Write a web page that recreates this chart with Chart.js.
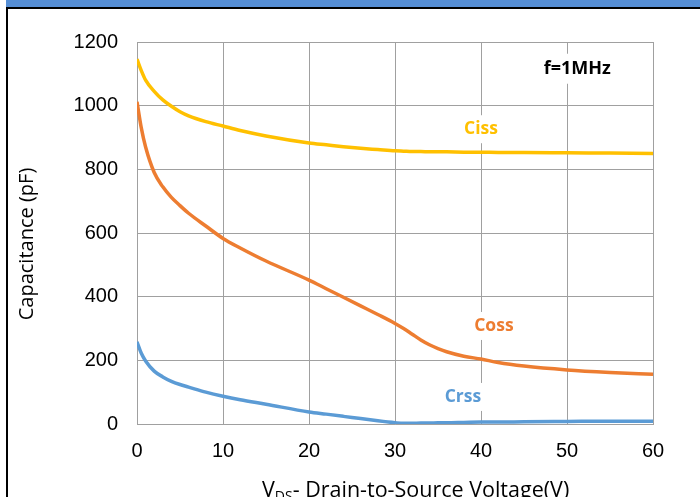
<!DOCTYPE html>
<html>
<head>
<meta charset="utf-8">
<script src="https://cdn.jsdelivr.net/npm/chart.js@4/dist/chart.umd.min.js"></script>
<style>
html,body{margin:0;padding:0;background:#fff;}
#wrap{position:relative;width:700px;height:497px;overflow:hidden;}
#bar{position:absolute;left:6px;top:0;width:694px;height:7px;background:#558ED5;}
#topline{position:absolute;left:6px;top:7px;width:694px;height:2px;background:#000;}
#leftline{position:absolute;left:6px;top:7px;width:2px;height:490px;background:#000;}
#c{position:absolute;left:0;top:0;}
</style>
</head>
<body>
<div id="wrap">
<div id="bar"></div><div id="topline"></div><div id="leftline"></div>
<canvas id="c" width="700" height="497"></canvas>
</div>
<script>
// Drain-to-source voltage (V)
const vds  = [0, 0.5, 1, 2, 3, 4, 5, 6, 8, 10, 12, 15, 20, 22, 24, 26, 28, 30, 31, 32, 33, 34, 35, 36, 38, 40, 42, 45, 50, 55, 60];
// Capacitances (pF)
const ciss = [1146, 1110, 1080, 1045, 1018, 998, 981, 968, 950, 936, 922, 905, 883, 877, 871, 866, 862, 858, 857, 856, 856, 855, 855, 855, 854, 854, 853, 853, 852, 851, 850];
const coss = [1012, 930, 870, 790, 745, 712, 686, 662, 622, 583, 553, 512, 452, 425, 398, 371, 344, 316, 300, 282, 264, 249, 237, 227, 213, 204, 193, 182, 170, 162, 156];
const crss = [258, 222, 198, 166, 148, 134, 124, 116, 100, 87, 76, 62, 38, 31, 24, 17, 10, 4, 2, 2, 3, 3, 4, 4, 5, 6, 6, 7, 8, 9, 9];
const seriesNames = ['Ciss', 'Coss', 'Crss'];
const xTicks = [0, 10, 20, 30, 40, 50, 60];
const yTicks = [0, 200, 400, 600, 800, 1000, 1200];
const colors = ['#FFC000', '#ED7D31', '#5B9BD5'];
// label anchor values (V, pF) for in-plot series labels
const labelPos = [[40, 926], [41.5, 308], [37.9, 85]];
const noteText = 'f=1MHz';
const notePos = [51.2, 1116];

const toPts = arr => arr.map((v, i) => ({x: vds[i], y: v}));

const annot = {
  id: 'annot',
  afterDatasetsDraw(chart) {
    const ctx = chart.ctx;
    const xs = chart.scales.x, ys = chart.scales.y;
    ctx.save();
    ctx.textAlign = 'center';
    ctx.textBaseline = 'middle';
    const drawLbl = (txt, vx, vy, col, padX, padY, size) => {
      ctx.font = 'bold ' + size + 'px "Open Sans"';
      const px = xs.getPixelForValue(vx), py = ys.getPixelForValue(vy);
      const w = ctx.measureText(txt).width;
      ctx.fillStyle = '#fff';
      ctx.fillRect(px - w/2 - padX, py - 12 - padY, w + 2*padX, 24 + 2*padY);
      ctx.fillStyle = col;
      ctx.fillText(txt, px, py);
    };
    seriesNames.forEach((n, i) => drawLbl(n, labelPos[i][0], labelPos[i][1], colors[i], 2, 2, 17.5));
    drawLbl(noteText, notePos[0], notePos[1], '#000', 3, 3, 18);
    // axis titles
    ctx.fillStyle = '#000';
    ctx.font = '21.5px "Open Sans"';
    ctx.textAlign = 'left';
    ctx.textBaseline = 'alphabetic';
    let x0 = 262, yb = 497;
    ctx.fillText('V', x0, yb);
    let wV = ctx.measureText('V').width;
    ctx.font = '14px "Open Sans"';
    ctx.fillText('DS', x0 + wV, yb + 4);
    let wDS = ctx.measureText('DS').width;
    ctx.font = '21.5px "Open Sans"';
    ctx.fillText('- Drain-to-Source Voltage(V)', x0 + wV + wDS, yb);
    ctx.font = '20px "Open Sans"';
    ctx.translate(27, 244);
    ctx.rotate(-Math.PI/2);
    ctx.textAlign = 'center';
    ctx.textBaseline = 'middle';
    ctx.fillText('Capacitance (pF)', 0, 0);
    ctx.restore();
  }
};

new Chart(document.getElementById('c'), {
  type: 'line',
  data: {
    datasets: [ciss, coss, crss].map((d, i) => ({
      label: seriesNames[i],
      data: toPts(d),
      borderColor: colors[i],
      borderWidth: 3.5,
      pointRadius: 0,
      fill: false,
      cubicInterpolationMode: 'monotone'
    }))
  },
  options: {
    responsive: false,
    animation: false,
    devicePixelRatio: 1,
    layout: {padding: {top: 42, right: 47, left: 0, bottom: 0}},
    plugins: {legend: {display: false}, tooltip: {enabled: false}},
    scales: {
      x: {
        type: 'linear', min: 0, max: 60,
        afterBuildTicks: s => { s.ticks = xTicks.map(v => ({value: v})); },
        afterFit: s => { s.height = 73; },
        grid: {color: '#a0a0a0', lineWidth: 1, drawTicks: false},
        border: {color: '#a0a0a0'},
        ticks: {color: '#000', font: {family: '"Liberation Sans"', size: 20}, padding: 15, maxRotation: 0, callback: v => String(v)}
      },
      y: {
        min: 0, max: 1200,
        afterBuildTicks: s => { s.ticks = yTicks.map(v => ({value: v})); },
        afterFit: s => { s.width = 137; },
        grid: {color: '#a0a0a0', lineWidth: 1, drawTicks: false},
        border: {color: '#a0a0a0'},
        ticks: {color: '#000', font: {family: '"Liberation Sans"', size: 20}, padding: 19, callback: v => String(v)}
      }
    }
  },
  plugins: [annot]
});
</script>
</body>
</html>
